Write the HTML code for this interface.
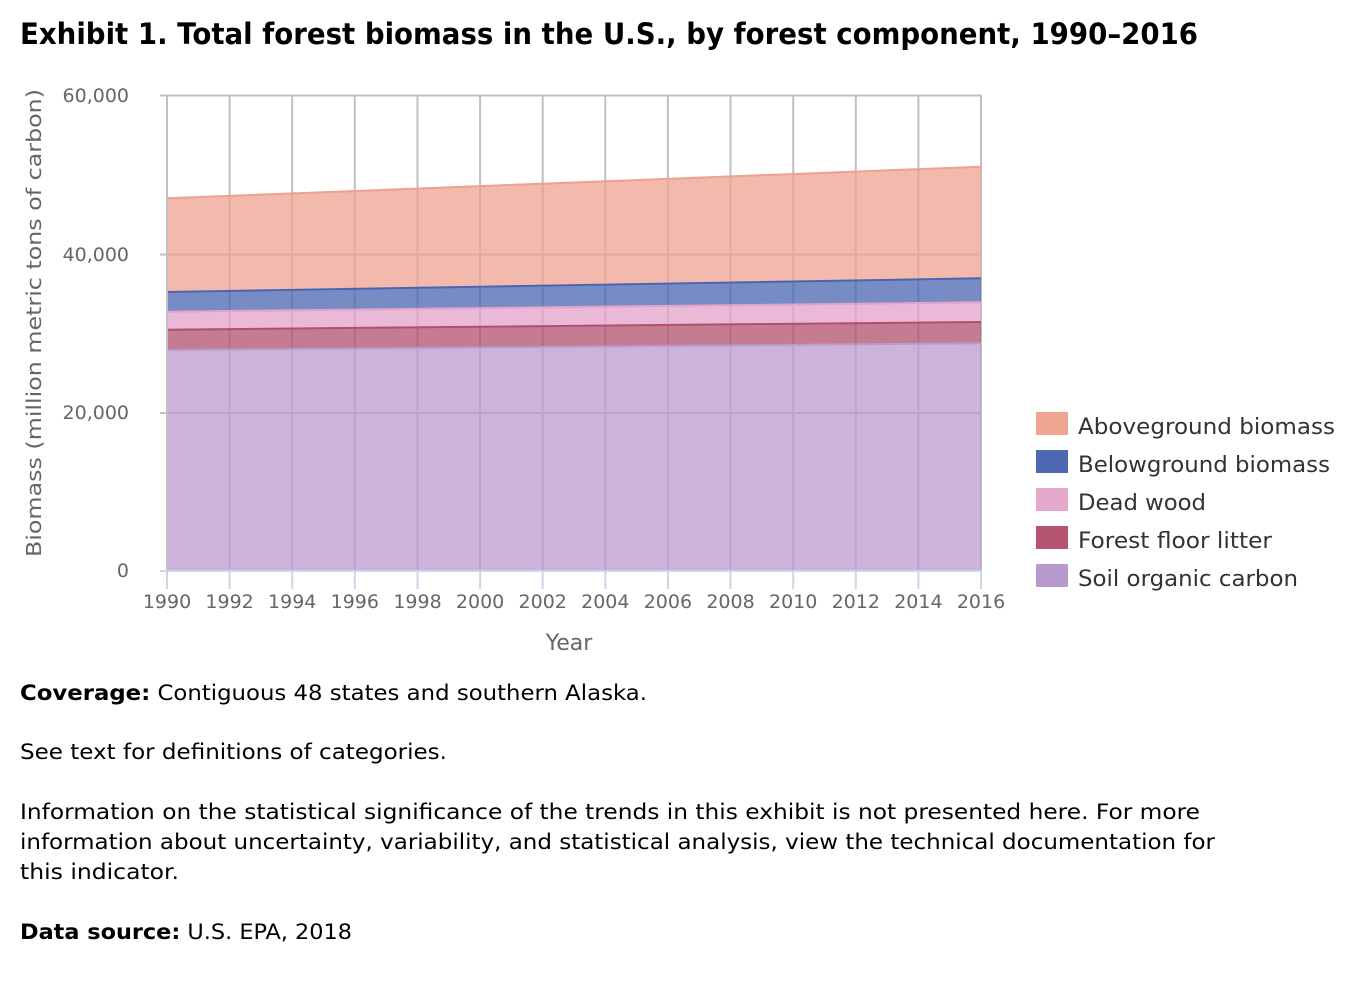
<!DOCTYPE html>
<html>
<head>
<meta charset="utf-8">
<style>
  html,body{margin:0;padding:0;background:#fff;}
  svg{display:block;}
  text{font-family:"DejaVu Sans","Liberation Sans",sans-serif;}
</style>
</head>
<body>
<svg width="1360" height="1000" viewBox="0 0 1360 1000" xmlns="http://www.w3.org/2000/svg">
  <rect width="1360" height="1000" fill="#fff"/>
  <!-- Title -->
  <text x="20" y="44" font-size="29" font-weight="bold" fill="#000" textLength="1178" lengthAdjust="spacingAndGlyphs">Exhibit 1. Total forest biomass in the U.S., by forest component, 1990–2016</text>

  <!-- Grid lines -->
  <g stroke="#c0c0c0" stroke-width="2">
    <line x1="160" y1="95.5" x2="981" y2="95.5"/>
    <line x1="160" y1="254.5" x2="981" y2="254.5"/>
    <line x1="160" y1="413" x2="981" y2="413"/>
    <line x1="167" y1="95" x2="167" y2="571"/>
    <line x1="229.6" y1="95" x2="229.6" y2="571"/>
    <line x1="292.2" y1="95" x2="292.2" y2="571"/>
    <line x1="354.8" y1="95" x2="354.8" y2="571"/>
    <line x1="417.5" y1="95" x2="417.5" y2="571"/>
    <line x1="480.1" y1="95" x2="480.1" y2="571"/>
    <line x1="542.7" y1="95" x2="542.7" y2="571"/>
    <line x1="605.3" y1="95" x2="605.3" y2="571"/>
    <line x1="667.9" y1="95" x2="667.9" y2="571"/>
    <line x1="730.5" y1="95" x2="730.5" y2="571"/>
    <line x1="793.2" y1="95" x2="793.2" y2="571"/>
    <line x1="855.8" y1="95" x2="855.8" y2="571"/>
    <line x1="918.4" y1="95" x2="918.4" y2="571"/>
    <line x1="981" y1="95" x2="981" y2="571"/>
  </g>

  <!-- Areas -->
  <g fill-opacity="0.75">
    <polygon points="167,350 981,343.3 981,571 167,571" fill="#b99acc"/>
    <polygon points="167,329.7 981,322 981,343.3 167,350" fill="#b24f6e"/>
    <polygon points="167,311.7 981,302.3 981,322 167,329.7" fill="#e2a2ca"/>
    <polygon points="167,292 981,278.3 981,302.3 167,311.7" fill="#4a65b1"/>
    <polygon points="167,198.3 981,166.7 981,278.3 167,292" fill="#eda190"/>
  </g>
  <!-- Series lines -->
  <g stroke-width="2" fill="none">
    <line x1="167" y1="350" x2="981" y2="343.3" stroke="#b99acc"/>
    <line x1="167" y1="329.7" x2="981" y2="322" stroke="#b24f6e"/>
    <line x1="167" y1="311.7" x2="981" y2="302.3" stroke="#e2a2ca"/>
    <line x1="167" y1="292" x2="981" y2="278.3" stroke="#4a65b1"/>
    <line x1="167" y1="198.3" x2="981" y2="166.7" stroke="#eda190"/>
  </g>

  <!-- Axes -->
  <line x1="167" y1="95" x2="167" y2="571" stroke="#c0c0c0" stroke-width="2"/>
  <line x1="160" y1="571" x2="982" y2="571" stroke="#ccd6eb" stroke-width="2"/>
  <g stroke="#ccd6eb" stroke-width="2">
    <line x1="167" y1="571" x2="167" y2="589"/>
    <line x1="229.6" y1="571" x2="229.6" y2="589"/>
    <line x1="292.2" y1="571" x2="292.2" y2="589"/>
    <line x1="354.8" y1="571" x2="354.8" y2="589"/>
    <line x1="417.5" y1="571" x2="417.5" y2="589"/>
    <line x1="480.1" y1="571" x2="480.1" y2="589"/>
    <line x1="542.7" y1="571" x2="542.7" y2="589"/>
    <line x1="605.3" y1="571" x2="605.3" y2="589"/>
    <line x1="667.9" y1="571" x2="667.9" y2="589"/>
    <line x1="730.5" y1="571" x2="730.5" y2="589"/>
    <line x1="793.2" y1="571" x2="793.2" y2="589"/>
    <line x1="855.8" y1="571" x2="855.8" y2="589"/>
    <line x1="918.4" y1="571" x2="918.4" y2="589"/>
    <line x1="981" y1="571" x2="981" y2="589"/>
  </g>

  <!-- Y tick labels -->
  <g font-size="19" fill="#666" text-anchor="end">
    <text x="129" y="102">60,000</text>
    <text x="129" y="261">40,000</text>
    <text x="129" y="419">20,000</text>
    <text x="129" y="577">0</text>
  </g>
  <!-- X tick labels -->
  <g font-size="19" fill="#666" text-anchor="middle">
    <text x="167" y="608">1990</text>
    <text x="229.6" y="608">1992</text>
    <text x="292.2" y="608">1994</text>
    <text x="354.8" y="608">1996</text>
    <text x="417.5" y="608">1998</text>
    <text x="480.1" y="608">2000</text>
    <text x="542.7" y="608">2002</text>
    <text x="605.3" y="608">2004</text>
    <text x="667.9" y="608">2006</text>
    <text x="730.5" y="608">2008</text>
    <text x="793.2" y="608">2010</text>
    <text x="855.8" y="608">2012</text>
    <text x="918.4" y="608">2014</text>
    <text x="981" y="608">2016</text>
  </g>

  <!-- Axis titles -->
  <text x="569" y="650" font-size="22" fill="#666" text-anchor="middle">Year</text>
  <text transform="translate(41,323) rotate(-90)" font-size="20" fill="#666" text-anchor="middle" textLength="468" lengthAdjust="spacingAndGlyphs">Biomass (million metric tons of carbon)</text>

  <!-- Legend -->
  <rect x="1036" y="412" width="32" height="23" fill="#eea592"/>
  <rect x="1036" y="450" width="32" height="23" fill="#4d69b3"/>
  <rect x="1036" y="488" width="32" height="23" fill="#e4a8cc"/>
  <rect x="1036" y="526" width="32" height="23" fill="#b55571"/>
  <rect x="1036" y="564" width="32" height="23" fill="#b99acc"/>
  <g font-size="22" fill="#333">
    <text x="1078" y="434" textLength="257" lengthAdjust="spacingAndGlyphs">Aboveground biomass</text>
    <text x="1078" y="472" textLength="252" lengthAdjust="spacingAndGlyphs">Belowground biomass</text>
    <text x="1078" y="510" textLength="128" lengthAdjust="spacingAndGlyphs">Dead wood</text>
    <text x="1078" y="548" textLength="194" lengthAdjust="spacingAndGlyphs">Forest floor litter</text>
    <text x="1078" y="586" textLength="220" lengthAdjust="spacingAndGlyphs">Soil organic carbon</text>
  </g>

  <!-- Notes -->
  <g font-size="21" fill="#000">
    <text x="20" y="700" textLength="627" lengthAdjust="spacingAndGlyphs"><tspan font-weight="bold">Coverage:</tspan> Contiguous 48 states and southern Alaska.</text>
    <text x="20" y="759" textLength="427" lengthAdjust="spacingAndGlyphs">See text for definitions of categories.</text>
    <text x="20" y="819" textLength="1180" lengthAdjust="spacingAndGlyphs">Information on the statistical significance of the trends in this exhibit is not presented here. For more</text>
    <text x="20" y="849" textLength="1195" lengthAdjust="spacingAndGlyphs">information about uncertainty, variability, and statistical analysis, view the technical documentation for</text>
    <text x="20" y="879" textLength="159" lengthAdjust="spacingAndGlyphs">this indicator.</text>
    <text x="20" y="939" textLength="332" lengthAdjust="spacingAndGlyphs"><tspan font-weight="bold">Data source:</tspan> U.S. EPA, 2018</text>
  </g>
</svg>
</body>
</html>
